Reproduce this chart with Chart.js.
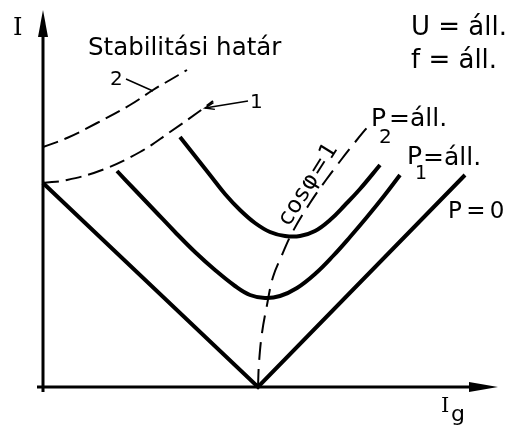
<!DOCTYPE html>
<html>
<head>
<meta charset="utf-8">
<script src="https://cdn.jsdelivr.net/npm/chart.js@4/dist/chart.umd.min.js"></script>
<style>
  html, body { margin: 0; padding: 0; background: #fff; }
  canvas { display: block; }
</style>
</head>
<body>
<canvas id="vcurves" width="509" height="428"></canvas>
<script>
// V-curves of a synchronous machine: armature current I versus excitation current Ig
// (arbitrary units along both axes)

// P = 0 (no-load) V-curve
const p0Ig = [0, 215, 422];
const p0I  = [204, 0, 212];

// P1 = const.
const p1Ig = [74, 92, 112, 132, 152, 172, 192, 207, 222, 237, 254, 272, 290, 307, 324, 341, 357];
const p1I  = [216, 197, 176, 155, 135, 117, 101, 92, 89, 91, 99, 113, 131, 150, 170, 191, 212];

// P2 = const.
const p2Ig = [137, 152, 167, 182, 197, 212, 227, 242, 257, 272, 287, 302, 317, 337];
const p2I  = [250, 231, 212, 193, 177, 164, 155, 151, 151, 156, 167, 182, 198, 222];

// stability limits 1 and 2
const stab1Ig = [0, 24, 59, 97, 127, 154, 170];
const stab1I  = [204, 207, 217, 235, 255, 274, 286];
const stab2Ig = [0, 24, 54, 87, 110, 127, 144];
const stab2I  = [240, 249, 264, 282, 297, 307, 317];

// locus of cos φ = 1 (minimum current points)
const cosIg = [215, 216, 219, 224, 230, 239, 249, 267, 283, 298, 313, 327];
const cosI  = [0, 24, 54, 82, 110, 132, 154, 184, 207, 227, 246, 263];

const pts = (xs, ys) => xs.map((v, i) => ({ x: v, y: ys[i] }));

const solid = (data, tension) => ({
  data, showLine: true, pointRadius: 0, borderColor: '#000',
  borderWidth: 4, tension, clip: false, fill: false
});
const dashed = (data, dash) => ({
  data, showLine: true, pointRadius: 0, borderColor: '#000',
  borderWidth: 2, borderDash: dash, tension: 0.4, clip: false, fill: false
});

// text placed in axis units
const SANS = '"DejaVu Sans", sans-serif';
const SERIF = '"DejaVu Serif", serif';
const labels = [
  { t: 'I', x: -30, y: 352, font: '24px ' + SERIF },
  { t: 'I', x: 398, y: -25, font: '21px ' + SERIF },
  { t: 'g', x: 408, y: -34, font: '22px ' + SANS },
  { t: 'Stabilitási határ', x: 45, y: 332, font: '24.5px ' + SANS },
  { t: 'U = áll.', x: 368, y: 352, font: '26px ' + SANS },
  { t: 'f = áll.', x: 368, y: 319, font: '26px ' + SANS },
  { t: 'P', x: 328, y: 261, font: '25px ' + SANS },
  { t: '2', x: 336, y: 244, font: '20px ' + SANS },
  { t: '=áll.', x: 346, y: 261, font: '25px ' + SANS },
  { t: 'P', x: 364, y: 223, font: '25px ' + SANS },
  { t: '1', x: 372, y: 208, font: '19px ' + SANS },
  { t: '=áll.', x: 380, y: 222, font: '25px ' + SANS },
  { t: 'P = 0', x: 405, y: 169, font: '23px ' + SANS, spacing: '-1.5px' },
  { t: '2', x: 67, y: 302, font: '20px ' + SANS },
  { t: '1', x: 207, y: 279, font: '20px ' + SANS },
  { t: 'cosφ=1', x: 246, y: 160, font: '23px ' + SANS, angle: -58, spacing: '1px' }
];

const overlay = {
  id: 'overlay',
  afterDatasetsDraw(chart) {
    const { ctx, scales: { x, y } } = chart;
    const X = v => x.getPixelForValue(v);
    const Y = v => y.getPixelForValue(v);
    ctx.save();
    ctx.strokeStyle = '#000';
    ctx.fillStyle = '#000';
    ctx.lineCap = 'butt';

    // axes with arrowheads
    ctx.lineWidth = 3;
    ctx.beginPath();
    ctx.moveTo(X(0), Y(-5)); ctx.lineTo(X(0), Y(352));
    ctx.moveTo(X(-6), Y(0)); ctx.lineTo(X(427), Y(0));
    ctx.stroke();
    ctx.beginPath();
    ctx.moveTo(X(0), Y(377));
    ctx.lineTo(X(0) - 5, Y(350));
    ctx.lineTo(X(0) + 5, Y(350));
    ctx.closePath(); ctx.fill();
    ctx.beginPath();
    ctx.moveTo(X(455), Y(0));
    ctx.lineTo(X(426), Y(0) - 5);
    ctx.lineTo(X(426), Y(0) + 5);
    ctx.closePath(); ctx.fill();

    // leader lines for the stability limit numbers
    ctx.lineWidth = 1.5;
    ctx.beginPath();
    ctx.moveTo(X(83), Y(308)); ctx.lineTo(X(110), Y(296));
    ctx.moveTo(X(205), Y(286)); ctx.lineTo(X(162), Y(279));
    ctx.stroke();
    const tx = X(162), ty = Y(279);
    const ang = Math.atan2(Y(286) - ty, X(205) - tx);
    ctx.beginPath();
    ctx.moveTo(tx + 10 * Math.cos(ang - 0.4), ty + 10 * Math.sin(ang - 0.4));
    ctx.lineTo(tx, ty);
    ctx.lineTo(tx + 10 * Math.cos(ang + 0.3), ty + 10 * Math.sin(ang + 0.3));
    ctx.stroke();

    // text
    ctx.textBaseline = 'alphabetic';
    ctx.textAlign = 'left';
    for (const l of labels) {
      ctx.save();
      ctx.font = l.font;
      ctx.letterSpacing = l.spacing || '0px';
      ctx.translate(X(l.x), Y(l.y));
      if (l.angle) ctx.rotate(l.angle * Math.PI / 180);
      ctx.fillText(l.t, 0, 0);
      ctx.restore();
    }
    ctx.restore();
  }
};

new Chart(document.getElementById('vcurves'), {
  type: 'scatter',
  data: {
    datasets: [
      solid(pts(p0Ig, p0I), 0),
      solid(pts(p1Ig, p1I), 0.4),
      solid(pts(p2Ig, p2I), 0.4),
      dashed(pts(stab1Ig, stab1I), [16, 7]),
      dashed(pts(stab2Ig, stab2I), [16, 7]),
      dashed(pts(cosIg, cosI), [18, 9])
    ]
  },
  options: {
    responsive: false,
    animation: false,
    events: [],
    layout: { padding: { left: 43, right: 11, top: 10, bottom: 41 } },
    plugins: { legend: { display: false }, tooltip: { enabled: false } },
    scales: {
      x: { type: 'linear', min: 0, max: 455, display: false },
      y: { type: 'linear', min: 0, max: 377, display: false }
    }
  },
  plugins: [overlay]
});
</script>
</body>
</html>
